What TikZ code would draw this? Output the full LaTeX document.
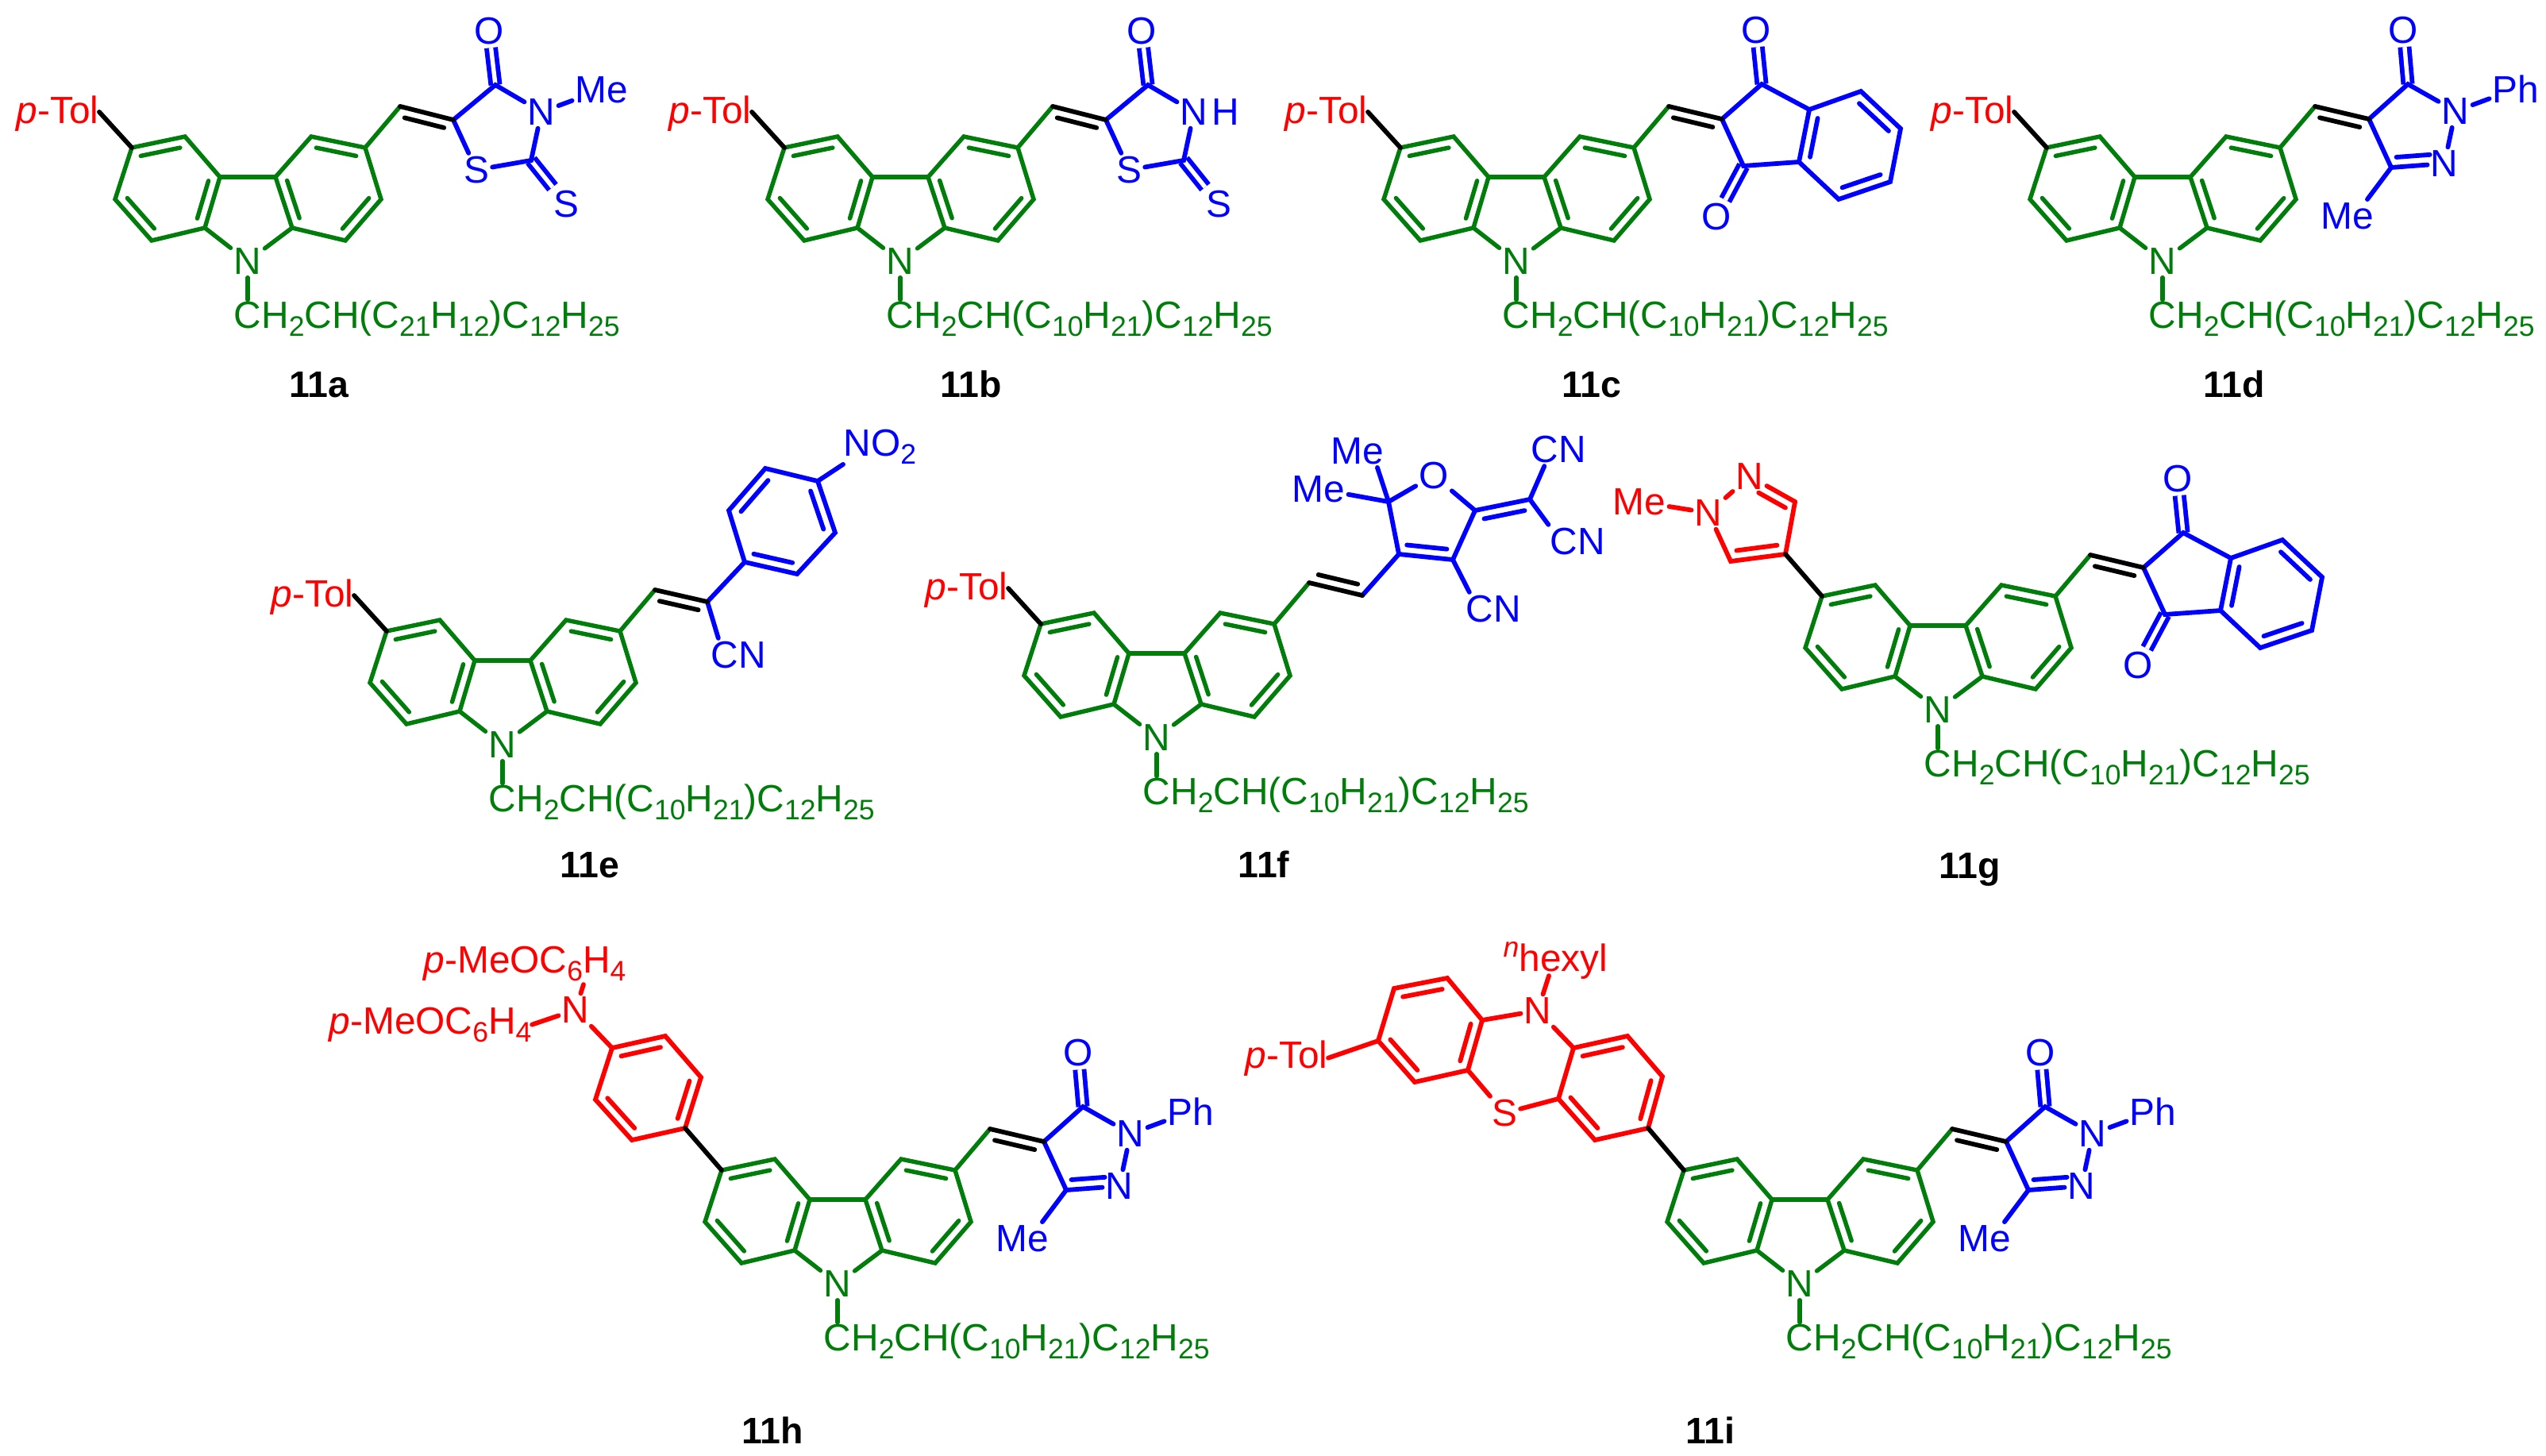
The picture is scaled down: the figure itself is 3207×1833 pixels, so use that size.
\documentclass[tikz,border=0pt]{standalone}
\usepackage{fontspec}
\setmainfont{Liberation Sans}
\usetikzlibrary{calc}
\definecolor{carbgreen}{RGB}{0,125,10}
\definecolor{acceptor}{RGB}{0,0,255}
\definecolor{donor}{RGB}{255,0,0}
\newcommand{\atomfont}{\fontsize{13.6}{15}\selectfont}
\newcommand{\lowfont}{\fontsize{10.1}{12}\selectfont}
\newcommand{\lowr}[1]{\raisebox{-2.9pt}{\lowfont #1}}
\newcommand{\chain}[2]{CH\lowr{2}CH(C\lowr{#1}H\lowr{#2})C\lowr{12}H\lowr{25}}
\tikzset{
  gbond/.style={draw=carbgreen,line width=1.55pt,line cap=round},
  bbond/.style={draw=acceptor,line width=1.65pt,line cap=round},
  rbond/.style={draw=donor,line width=1.65pt,line cap=round},
  kbond/.style={draw=black,line width=1.65pt,line cap=round},
  twin/.style={line cap=butt,double,double distance=.054cm},
  gatom/.style={inner sep=1pt,font=\atomfont,text=carbgreen},
  batom/.style={inner sep=1pt,font=\atomfont,text=acceptor},
  ratom/.style={inner sep=1pt,font=\atomfont,text=donor},
  nolabel/.style={inner sep=0pt,anchor=base,font=\fontsize{13.2}{15}\selectfont\bfseries}
}
% second stroke of a double bond, #4 is the side (+ left of a->b)
\newcommand{\inbond}[4]{\draw[#1] ($(#2)!.13!(#3)!#4!90:(#3)$) -- ($(#3)!.13!(#2)!#4!-90:(#2)$);}
% carbazole core round its N, with chain and first vinyl bond
\newcommand{\carbazole}[3]{
  \coordinate (#1a) at (-146,-143);
  \coordinate (#1b) at (-79,-157);
  \coordinate (#1c) at (-35,-106);
  \coordinate (#1d) at (35,-106);
  \coordinate (#1e) at (80,-157);
  \coordinate (#1f) at (148,-143);
  \coordinate (#1g) at (168,-78);
  \coordinate (#1h) at (123,-26);
  \coordinate (#1i) at (56,-42);
  \coordinate (#1j) at (-54,-42);
  \coordinate (#1k) at (-121,-26);
  \coordinate (#1l) at (-167,-78);
  \coordinate (#1v) at (192,-195);
  \node[gatom] (#1N) at (0,0) {N};
  \node[gatom,inner sep=0pt,anchor=base west] (#1ch) at (-18,84) {\chain{#2}{#3}};
  \draw[gbond] (#1a) -- (#1b) -- (#1c) -- (#1j) -- (#1k) -- (#1l) -- cycle;
  \draw[gbond] (#1d) -- (#1e) -- (#1f) -- (#1g) -- (#1h) -- (#1i) -- cycle;
  \draw[gbond] (#1c) -- (#1d);
  \draw[gbond] (#1j) -- (#1N);
  \draw[gbond] (#1i) -- (#1N);
  \draw[gbond] (#1N) -- (#1N |- #1ch.north);
  \draw[gbond] (#1f) -- (#1v);
  \inbond{gbond}{#1a}{#1b}{-.125cm}
  \inbond{gbond}{#1l}{#1k}{.125cm}
  \inbond{gbond}{#1c}{#1j}{-.125cm}
  \inbond{gbond}{#1d}{#1i}{.125cm}
  \inbond{gbond}{#1h}{#1g}{.125cm}
  \inbond{gbond}{#1e}{#1f}{-.125cm}
}
\newcommand{\ptol}[1]{
  \coordinate (#1te) at (-187,-188);
  \node[ratom,inner sep=0pt,anchor=base east] (#1tol) at (-187,-174) {\textit{p}-Tol};
  \draw[kbond] (#1a) -- (#1te);
}
\newcommand{\thione}[1]{
  \coordinate (#1c5) at (259,-178);
  \coordinate (#1c4) at (312,-222);
  \coordinate (#1c2) at (357,-127);
  \node[batom] (#1o) at (304,-290) {O};
  \node[batom] (#1n3) at (370,-188) {N};
  \node[batom] (#1s1) at (288,-115) {S};
  \node[batom] (#1s2) at (401,-72) {S};
  \draw[bbond,twin] (#1c4) -- (#1o);
  \draw[bbond,twin] (#1c2) -- (#1s2);
  \draw[bbond] (#1c5) -- (#1c4) -- (#1n3);
  \draw[bbond] (#1c5) -- (#1s1);
  \draw[bbond] (#1s1) -- (#1c2) -- (#1n3);
  \draw[kbond] (#1v) -- (#1c5);
  \inbond{kbond}{#1v}{#1c5}{-.125cm}
}
\newcommand{\pyrazolone}[1]{
  \coordinate (#1c4) at (260,-179);
  \coordinate (#1c5) at (309,-223);
  \coordinate (#1c3) at (288,-118);
  \node[batom] (#1o) at (303,-291) {O};
  \node[batom] (#1n1) at (369,-189) {N};
  \node[batom] (#1n2) at (355,-123) {N};
  \node[batom] (#1ph) at (445,-217) {Ph};
  \node[batom] (#1me) at (233,-57) {Me};
  \coordinate (#1q) at ($(#1n2)!.15!(#1c3)$);
  \draw[bbond,twin] (#1c5) -- (#1o);
  \draw[bbond] (#1c4) -- (#1c5) -- (#1n1);
  \draw[bbond] (#1n1) -- (#1n2);
  \draw[bbond] (#1n1) -- (#1ph);
  \draw[bbond] (#1n2) -- (#1c3) -- (#1c4);
  \draw[bbond] (#1c3) -- (#1me.40);
  \inbond{bbond}{#1c3}{#1q}{.125cm}
  \draw[kbond] (#1v) -- (#1c4);
  \inbond{kbond}{#1v}{#1c4}{-.125cm}
}
\newcommand{\indandione}[1]{
  \coordinate (#1c2) at (259,-179);
  \coordinate (#1c1) at (309,-223);
  \coordinate (#1c3) at (286,-120);
  \coordinate (#1c3a) at (356,-125);
  \coordinate (#1c7a) at (369,-191);
  \coordinate (#1c7) at (434,-214);
  \coordinate (#1c6) at (484,-167);
  \coordinate (#1c5) at (471,-100);
  \coordinate (#1c4) at (406,-78);
  \node[batom] (#1o1) at (302,-291) {O};
  \node[batom] (#1o3) at (252,-56) {O};
  \draw[bbond,twin] (#1c1) -- (#1o1);
  \draw[bbond,twin] (#1c3) -- (#1o3);
  \draw[bbond] (#1c2) -- (#1c1) -- (#1c7a) -- (#1c3a) -- (#1c3) -- cycle;
  \draw[bbond] (#1c7a) -- (#1c7) -- (#1c6) -- (#1c5) -- (#1c4) -- (#1c3a);
  \inbond{bbond}{#1c7a}{#1c3a}{.125cm}
  \inbond{bbond}{#1c7}{#1c6}{-.125cm}
  \inbond{bbond}{#1c5}{#1c4}{-.125cm}
  \draw[kbond] (#1v) -- (#1c2);
  \inbond{kbond}{#1v}{#1c2}{-.125cm}
}
\begin{document}
\begin{tikzpicture}[x=.01cm,y=-.01cm]
  \useasboundingbox (0,0) rectangle (3207,1833);
  % 11a
  \begin{scope}[shift={(312,329)}]
    \carbazole{a}{21}{12}
    \ptol{a}
    \thione{a}
    \node[batom] (ame) at (446,-216) {Me};
    \draw[bbond] (an3) -- (ame);
  \end{scope}
  \node[nolabel] (alabel) at (402,500) {11a};
  % 11b
  \begin{scope}[shift={(1134,329)}]
    \carbazole{b}{10}{21}
    \ptol{b}
    \thione{b}
    \node[batom,inner sep=0pt,anchor=west] (bh) at (bn3.east) {H};
  \end{scope}
  \node[nolabel] (blabel) at (1223,500) {11b};
  % 11c
  \begin{scope}[shift={(1910,329)}]
    \carbazole{c}{10}{21}
    \ptol{c}
    \indandione{c}
  \end{scope}
  \node[nolabel] (clabel) at (2005,500) {11c};
  % 11d
  \begin{scope}[shift={(2724,329)}]
    \carbazole{d}{10}{21}
    \ptol{d}
    \pyrazolone{d}
  \end{scope}
  \node[nolabel] (dlabel) at (2814,500) {11d};
  % 11e
  \begin{scope}[shift={(633,938)}]
    \carbazole{e}{10}{21}
    \ptol{e}
    \coordinate (ealpha) at (258,-180);
    \coordinate (ear1) at (305,-230);
    \coordinate (ear2) at (371,-215);
    \coordinate (ear3) at (419,-267);
    \coordinate (ear4) at (397,-332);
    \coordinate (ear5) at (331,-348);
    \coordinate (ear6) at (285,-295);
    \node[batom] (ecn) at (297,-113) {CN};
    \node[batom,inner sep=0pt,anchor=base west] (eno) at (429,-364) {NO\lowr{2}};
    \draw[bbond] (ear1) -- (ear2) -- (ear3) -- (ear4) -- (ear5) -- (ear6) -- cycle;
    \draw[bbond] (ealpha) -- (ear1);
    \draw[bbond] (ealpha) -- (ecn.140);
    \draw[bbond] (ear4) -- (eno.south west);
    \inbond{bbond}{ear1}{ear2}{.125cm}
    \inbond{bbond}{ear3}{ear4}{.125cm}
    \inbond{bbond}{ear5}{ear6}{.125cm}
    \draw[kbond] (ev) -- (ealpha);
    \inbond{kbond}{ev}{ealpha}{-.125cm}
  \end{scope}
  \node[nolabel] (elabel) at (743,1105) {11e};
  % 11f
  \begin{scope}[shift={(1457,929)}]
    \carbazole{f}{10}{21}
    \ptol{f}
    \coordinate (fw) at (259,-179);
    \coordinate (fc4) at (305,-231);
    \coordinate (fc3) at (373,-224);
    \coordinate (fc2) at (401,-286);
    \coordinate (fc5) at (292,-297);
    \coordinate (fx) at (470,-300);
    \node[batom] (fo) at (349,-330) {O};
    \node[batom] (fme1) at (253,-361) {Me};
    \node[batom] (fme2) at (204,-313) {Me};
    \node[batom] (fcn1) at (506,-363) {CN};
    \node[batom] (fcn2) at (530,-247) {CN};
    \node[batom] (fcn3) at (424,-162) {CN};
    \draw[bbond] (fw) -- (fc4) -- (fc3) -- (fc2) -- (fo) -- (fc5) -- (fc4);
    \draw[bbond] (fc2) -- (fx);
    \draw[bbond] (fc5) -- (fme1.-40);
    \draw[bbond] (fc5) -- (fme2);
    \draw[bbond] (fx) -- (fcn1.-130);
    \draw[bbond] (fx) -- (fcn2.150);
    \draw[bbond] (fc3) -- (fcn3.145);
    \inbond{bbond}{fc4}{fc3}{.125cm}
    \inbond{bbond}{fc2}{fx}{-.125cm}
    \draw[kbond] (fv) -- (fw);
    \inbond{kbond}{fv}{fw}{.125cm}
  \end{scope}
  \node[nolabel] (flabel) at (1592,1105) {11f};
  % 11g
  \begin{scope}[shift={(2441,894)}]
    \carbazole{g}{10}{21}
    \indandione{g}
    \coordinate (gp4) at (-192,-196);
    \coordinate (gp5) at (-261,-187);
    \coordinate (gp3) at (-180,-262);
    \node[ratom] (gn1) at (-289,-248) {N};
    \node[ratom] (gn2) at (-237,-294) {N};
    \node[ratom] (gme) at (-376,-262) {Me};
    \coordinate (gq) at ($(gn2)!.2!(gp3)$);
    \draw[rbond] (gp3) -- (gp4) -- (gp5) -- (gn1);
    \draw[rbond] (gn1) -- (gn2);
    \draw[rbond] (gn2) -- (gp3);
    \draw[rbond] (gme) -- (gn1);
    \inbond{rbond}{gp4}{gp5}{-.125cm}
    \inbond{rbond}{gq}{gp3}{-.125cm}
    \draw[kbond] (ga) -- (gp4);
  \end{scope}
  \node[nolabel] (glabel) at (2481,1106) {11g};
  % 11h
  \begin{scope}[shift={(1055,1617)}]
    \carbazole{h}{10}{21}
    \pyrazolone{h}
    \coordinate (hp1) at (-192,-196);
    \coordinate (hp2) at (-259,-181);
    \coordinate (hp3) at (-305,-232);
    \coordinate (hp4) at (-284,-297);
    \coordinate (hp5) at (-217,-312);
    \coordinate (hp6) at (-172,-260);
    \coordinate (hup) at (-320,-377);
    \node[ratom] (hn) at (-330,-345) {N};
    \node[ratom,inner sep=0pt,anchor=base west] (hm1) at (-522,-392) {\textit{p}-MeOC\lowr{6}H\lowr{4}};
    \node[ratom,inner sep=0pt,anchor=base west] (hm2) at (-641,-315) {\textit{p}-MeOC\lowr{6}H\lowr{4}};
    \draw[rbond] (hp1) -- (hp2) -- (hp3) -- (hp4) -- (hp5) -- (hp6) -- cycle;
    \draw[rbond] (hp4) -- (hn);
    \draw[rbond] (hn) -- (hup);
    \draw[rbond] (hn) -- (hm2.east);
    \inbond{rbond}{hp2}{hp3}{-.125cm}
    \inbond{rbond}{hp4}{hp5}{-.125cm}
    \inbond{rbond}{hp6}{hp1}{-.125cm}
    \draw[kbond] (ha) -- (hp1);
  \end{scope}
  \node[nolabel] (hlabel) at (973,1818) {11h};
  % 11i
  \begin{scope}[shift={(2267,1617)}]
    \carbazole{i}{10}{21}
    \pyrazolone{i}
    \coordinate (ir1) at (-191,-196);
    \coordinate (ir2) at (-258,-181);
    \coordinate (ir3) at (-304,-233);
    \coordinate (ir4) at (-285,-297);
    \coordinate (ir5) at (-217,-312);
    \coordinate (ir6) at (-173,-261);
    \coordinate (il1) at (-400,-332);
    \coordinate (il2) at (-444,-385);
    \coordinate (il3) at (-511,-372);
    \coordinate (il4) at (-531,-306);
    \coordinate (il5) at (-485,-254);
    \coordinate (il6) at (-418,-269);
    \coordinate (iup) at (-316,-388);
    \node[ratom] (is) at (-372,-215) {S};
    \node[ratom] (in) at (-330,-344) {N};
    \node[ratom,inner sep=0pt,anchor=base west] (ihex) at (-374,-394) {\raisebox{5pt}{\lowfont\textit{n}}hexyl};
    \node[ratom,inner sep=0pt,anchor=base east] (itol) at (-594,-272) {\textit{p}-Tol};
    \draw[rbond] (ir1) -- (ir2) -- (ir3) -- (ir4) -- (ir5) -- (ir6) -- cycle;
    \draw[rbond] (il1) -- (il2) -- (il3) -- (il4) -- (il5) -- (il6) -- cycle;
    \draw[rbond] (il6) -- (is);
    \draw[rbond] (is) -- (ir3);
    \draw[rbond] (il1) -- (in);
    \draw[rbond] (in) -- (ir4);
    \draw[rbond] (in) -- (iup);
    \draw[rbond] (il4) -- (itol.east);
    \inbond{rbond}{ir3}{ir2}{.125cm}
    \inbond{rbond}{ir4}{ir5}{-.125cm}
    \inbond{rbond}{ir6}{ir1}{-.125cm}
    \inbond{rbond}{il1}{il6}{-.125cm}
    \inbond{rbond}{il2}{il3}{.125cm}
    \inbond{rbond}{il4}{il5}{.125cm}
    \draw[kbond] (ia) -- (ir1);
  \end{scope}
  \node[nolabel] (ilabel) at (2154,1818) {11i};
\end{tikzpicture}
\end{document}
